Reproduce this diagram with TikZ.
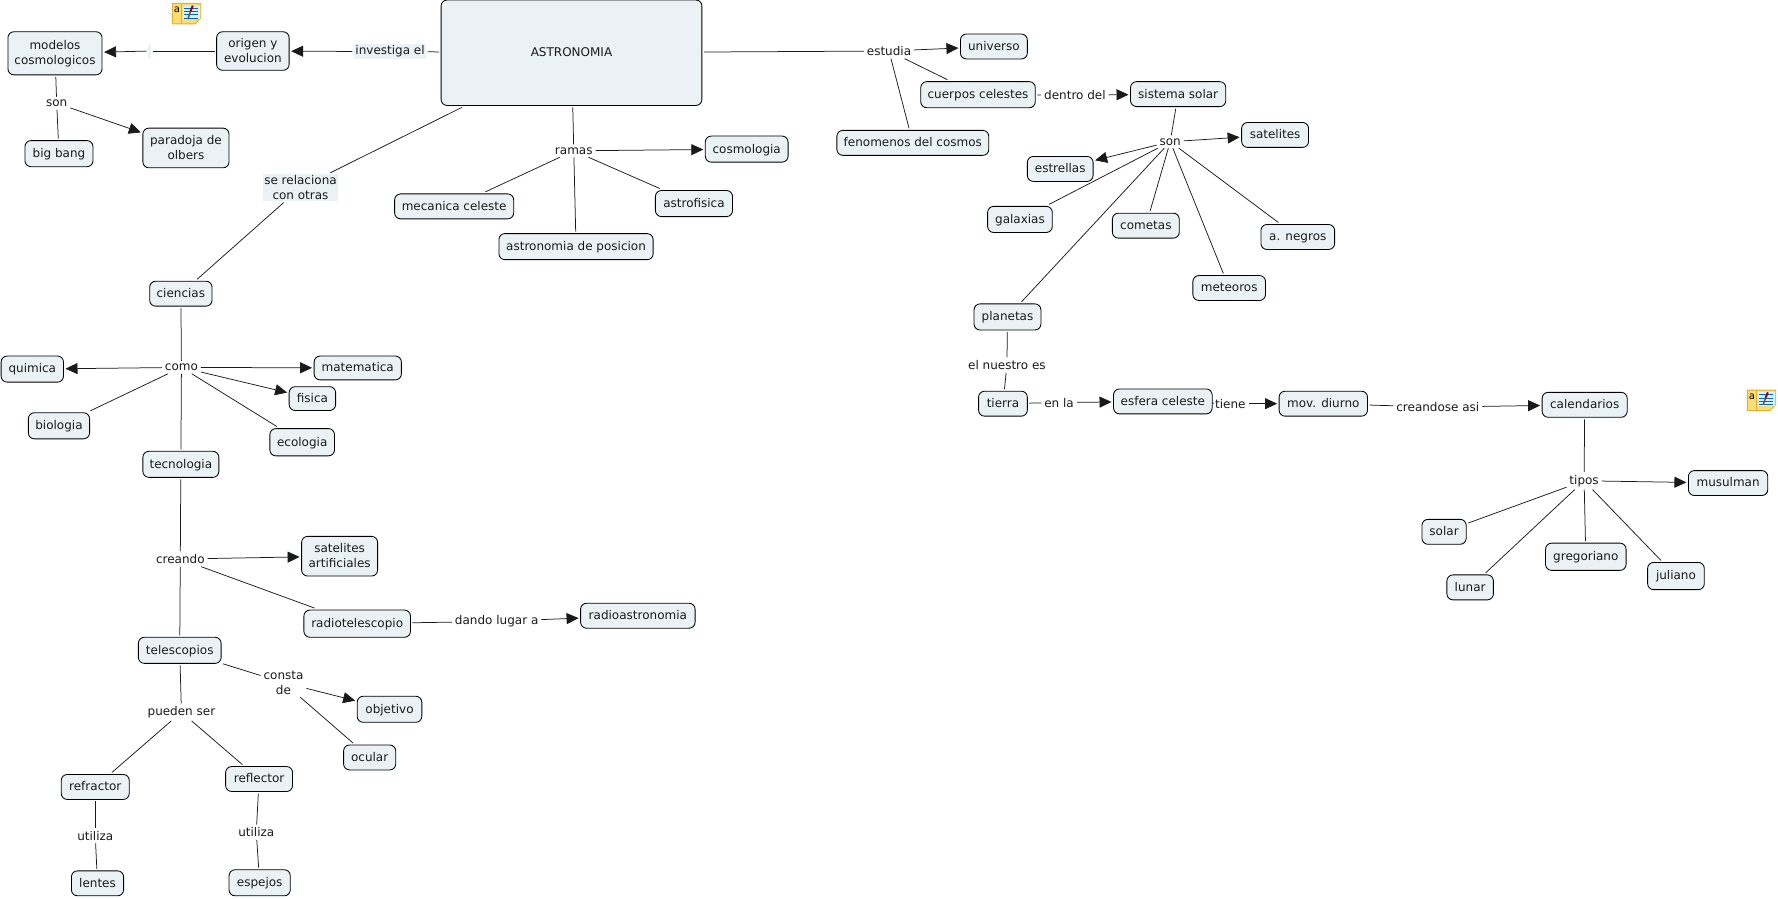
\documentclass[tikz,border=0pt]{standalone}
\usepackage{fontspec}
\setmainfont{DejaVu Sans}
\usetikzlibrary{arrows.meta}
\definecolor{conceptfill}{HTML}{EBF2F5}
\definecolor{inkc}{HTML}{1A1A1A}
\definecolor{noteedge}{HTML}{E3B030}
\definecolor{notefill}{HTML}{FBDD74}
\tikzset{
  x=1.134pt,y=-1.134pt,
  concept/.style={draw=black,line width=0.85pt,fill=conceptfill,rounded corners=6pt,inner sep=0pt,outer sep=2pt,align=center,text=inkc,font=\fontsize{12}{14.5}\selectfont},
  phrase/.style={fill=white,inner sep=1.5pt,outer sep=1.5pt,align=center,text=inkc,font=\fontsize{12}{14.5}\selectfont},
  phrasetint/.style={phrase,fill=conceptfill},
  link/.style={draw=inkc,line width=0.75pt},
  arrowlink/.style={link,-{Triangle[length=12pt,width=11pt]}},
}
\newcommand\concept[6]{\node[concept,minimum width={(#4-#2)*1.134pt},minimum height={(#5-#3)*1.134pt}] (#1) at ({(#2+#4)/2},{(#3+#5)/2}) {\raisebox{-1pt}[\height][\depth]{\begin{tabular}{@{}c@{}}#6\end{tabular}}};}
\newcommand\noteicon[2]{%
  \begin{scope}[shift={(#1,#2)}]
    \fill[draw=noteedge,line width=0.9pt,fill=notefill] (0,0) -- (25,0) -- (25,13) -- (20,18) -- (0,18) -- cycle;
    \draw[noteedge,line width=0.7pt] (8,0) -- (8,18);
    \fill[white!85!cyan] (9,2) rectangle (24,14);
    \foreach \yy in {4,7,10,13}{\draw[blue!50!cyan!80!black,line width=0.7pt] (10,\yy) -- (23,\yy);}
    \draw[red!60!black,line width=2pt] (18,2) -- (16,7);
    \draw[black!70!yellow,line width=1.6pt] (16,7) -- (14,13);
    \node[inner sep=0pt,font=\fontsize{10}{10}\selectfont] at (4,6) {a};
  \end{scope}}
\begin{document}
\begin{tikzpicture}
\useasboundingbox (0,0) rectangle (1568,792.8);
% concepts
\concept{astro}{389}{0}{619}{93}{ASTRONOMIA}
\concept{modelos}{7}{28}{90}{66}{modelos\\cosmologicos}
\concept{origen}{191}{28}{255}{62}{origen y\\evolucion}
\concept{paradoja}{126}{113}{202}{148}{paradoja de\\olbers}
\concept{bigbang}{22}{124}{82}{147}{big bang}
\concept{cosmologia}{622}{120}{695}{143}{cosmologia}
\concept{astrofisica}{578}{168}{646}{191}{astrofisica}
\concept{mecanica}{348}{171}{453}{193}{mecanica celeste}
\concept{posicion}{440}{206}{576}{229}{astronomia de posicion}
\concept{universo}{847}{30}{906}{52}{universo}
\concept{cuerpos}{812}{72}{913}{95}{cuerpos celestes}
\concept{fenomenos}{738}{115}{872}{137}{fenomenos del cosmos}
\concept{sistema}{997}{72}{1081}{94}{sistema solar}
\concept{satelites}{1095}{108}{1154}{130}{satelites}
\concept{estrellas}{906}{138}{964}{160}{estrellas}
\concept{galaxias}{871}{182}{928}{205}{galaxias}
\concept{cometas}{981}{188}{1040}{210}{cometas}
\concept{negros}{1112}{198}{1177}{220}{a. negros}
\concept{meteoros}{1052}{243}{1116}{265}{meteoros}
\concept{planetas}{859}{268}{918}{291}{planetas}
\concept{tierra}{863}{345}{906}{367}{tierra}
\concept{esfera}{982}{343}{1069}{365}{esfera celeste}
\concept{diurno}{1128}{345}{1206}{367}{mov. diurno}
\concept{calendarios}{1360}{346}{1435}{368}{calendarios}
\concept{musulman}{1489}{415}{1559}{437}{musulman}
\concept{solar}{1254}{458}{1293}{480}{solar}
\concept{lunar}{1276}{507}{1317}{529}{lunar}
\concept{gregoriano}{1363}{479}{1434}{503}{gregoriano}
\concept{juliano}{1453}{496}{1503}{520}{juliano}
\concept{ciencias}{132}{248}{187}{270}{ciencias}
\concept{quimica}{1}{314}{56}{337}{quimica}
\concept{matematica}{277}{314}{354}{335}{matematica}
\concept{fisica}{255}{341}{296}{362}{fisica}
\concept{biologia}{25}{364}{79}{387}{biologia}
\concept{ecologia}{238}{378}{295}{402}{ecologia}
\concept{tecnologia}{126}{398}{193}{421}{tecnologia}
\concept{artificiales}{266}{473}{333}{508}{satelites\\artificiales}
\concept{radiotel}{268}{538}{362}{562}{radiotelescopio}
\concept{radioastro}{512}{532}{613}{554}{radioastronomia}
\concept{telescopios}{122}{562}{195}{585}{telescopios}
\concept{objetivo}{315}{614}{372}{637}{objetivo}
\concept{ocular}{303}{657}{349}{679}{ocular}
\concept{refractor}{54}{683}{114}{705}{refractor}
\concept{reflector}{199}{676}{258}{698}{reflector}
\concept{lentes}{63}{768}{109}{790}{lentes}
\concept{espejos}{202}{767}{256}{790}{espejos}
% linking phrases
\node[phrasetint] (investiga) at (344,45.5) {investiga el};
\node[phrasetint,minimum width=3pt,minimum height=14pt,inner sep=0pt] (blank) at (132,45) {};
\node[phrase] (son1) at (50,91) {son};
\node[phrasetint] (serel) at (265,165.5) {se relaciona\\con otras};
\node[phrase] (estudia) at (784,45) {estudia};
\node[phrase] (ramas) at (506,133) {ramas};
\node[phrase] (dentro) at (948,84) {dentro del};
\node[phrase] (son2) at (1032,125) {son};
\node[phrase] (nuestro) at (888,322) {el nuestro es};
\node[phrase] (enla) at (934,355) {en la};
\node[phrase] (tiene) at (1085,356) {tiene};
\node[phrase] (creandose) at (1268,359) {creandose asi};
\node[phrase] (tipos) at (1397,424) {tipos};
\node[phrase] (como) at (160,324) {como};
\node[phrase] (creando) at (159,493) {creando};
\node[phrase] (dando) at (438,548) {dando lugar a};
\node[phrase] (consta) at (250,602) {consta\\de};
\node[phrase] (pueden) at (160,628) {pueden ser};
\node[phrase] (utiliza1) at (84,737) {utiliza};
\node[phrase] (utiliza2) at (226,734) {utiliza};
% connectors
\draw[link] (astro) -- (investiga);
\draw[arrowlink] (investiga) -- (origen);
\draw[link] (origen) -- (blank);
\draw[arrowlink] (blank) -- (modelos);
\draw[link] (modelos) -- (son1);
\draw[link] (son1) -- (bigbang);
\draw[arrowlink] (son1) -- (paradoja);
\draw[link] (astro) -- (serel);
\draw[link] (serel) -- (ciencias);
\draw[link] (astro) -- (ramas);
\draw[link] (ramas) -- (mecanica);
\draw[link] (ramas) -- (posicion);
\draw[link] (ramas) -- (astrofisica);
\draw[arrowlink] (ramas) -- (cosmologia);
\draw[link] (astro) -- (estudia);
\draw[arrowlink] (estudia) -- (universo);
\draw[link] (estudia) -- (cuerpos);
\draw[link] (estudia) -- (fenomenos);
\draw[link] (cuerpos) -- (dentro);
\draw[arrowlink] (dentro) -- (sistema);
\draw[link] (sistema) -- (son2);
\draw[arrowlink] (son2) -- (satelites);
\draw[arrowlink] (son2) -- (estrellas);
\draw[link] (son2) -- (galaxias);
\draw[link] (son2) -- (cometas);
\draw[link] (son2) -- (negros);
\draw[link] (son2) -- (meteoros);
\draw[link] (son2) -- (planetas);
\draw[link] (planetas) -- (nuestro);
\draw[link] (nuestro) -- (tierra);
\draw[link] (tierra) -- (enla);
\draw[arrowlink] (enla) -- (esfera);
\draw[link] (esfera) -- (tiene);
\draw[arrowlink] (tiene) -- (diurno);
\draw[link] (diurno) -- (creandose);
\draw[arrowlink] (creandose) -- (calendarios);
\draw[link] (calendarios) -- (tipos);
\draw[arrowlink] (tipos) -- (musulman);
\draw[link] (tipos) -- (solar);
\draw[link] (tipos) -- (lunar);
\draw[link] (tipos) -- (gregoriano);
\draw[link] (tipos) -- (juliano);
\draw[link] (ciencias) -- (como);
\draw[arrowlink] (como) -- (quimica);
\draw[arrowlink] (como) -- (matematica);
\draw[arrowlink] (como) -- (fisica);
\draw[link] (como) -- (biologia);
\draw[link] (como) -- (ecologia);
\draw[link] (como) -- (tecnologia);
\draw[link] (tecnologia) -- (creando);
\draw[arrowlink] (creando) -- (artificiales);
\draw[link] (creando) -- (radiotel);
\draw[link] (creando) -- (telescopios);
\draw[link] (radiotel) -- (dando);
\draw[arrowlink] (dando) -- (radioastro);
\draw[link] (telescopios) -- (consta);
\draw[arrowlink] (consta) -- (objetivo);
\draw[link] (consta) -- (ocular);
\draw[link] (telescopios) -- (pueden);
\draw[link] (pueden) -- (refractor);
\draw[link] (pueden) -- (reflector);
\draw[link] (refractor) -- (utiliza1);
\draw[link] (utiliza1) -- (lentes);
\draw[link] (reflector) -- (utiliza2);
\draw[link] (utiliza2) -- (espejos);
% note icons
\noteicon{152}{3}
\noteicon{1541}{344}
\end{tikzpicture}
\end{document}
